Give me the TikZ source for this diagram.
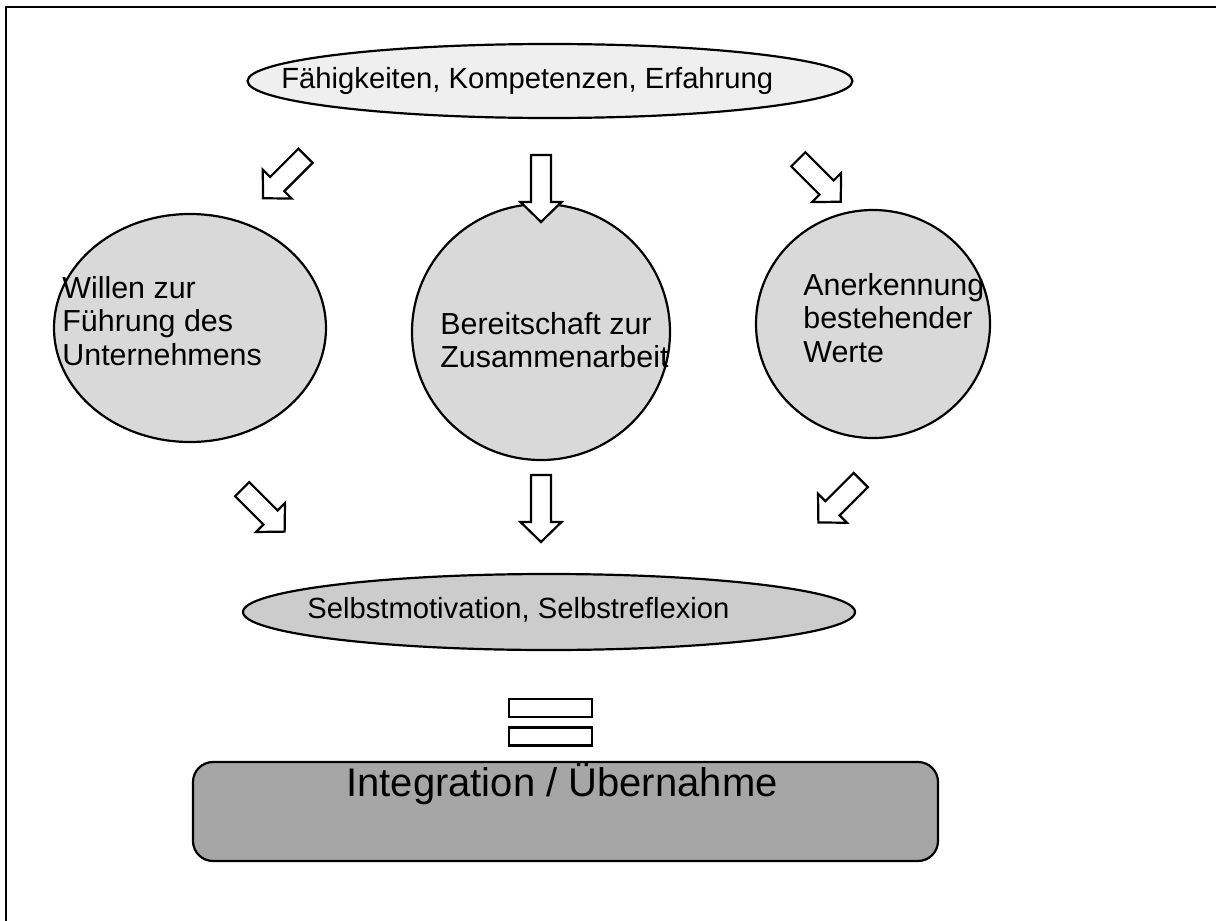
\documentclass[tikz,border=0pt]{standalone}
\usepackage{fontspec}
\setmainfont{Liberation Sans}
\usetikzlibrary{shapes.geometric}

\definecolor{topgray}{HTML}{EFEFEF}
\definecolor{circgray}{HTML}{D9D9D9}
\definecolor{selfgray}{HTML}{CCCCCC}
\definecolor{boxgray}{HTML}{A6A6A6}

\begin{document}
\begin{tikzpicture}[x=0.5pt,y=-0.5pt,
  outline/.style={draw=black,line width=1.1pt},
  blob/.style={outline,ellipse,inner sep=0pt},
  txt/.style={font=\fontsize{14.6}{16.5}\selectfont,align=left,anchor=west,inner sep=0pt},
  circtxt/.style={txt,font=\fontsize{15.2}{16.6}\selectfont},
  eqbar/.style={outline,fill=white,rectangle,inner sep=0pt,minimum width=41.5pt,minimum height=9pt},
  pics/blockarr/.style={code={
    \draw[outline,fill=white,line join=miter] (-10,0) -- (-10,#1-20) -- (-20.5,#1-20)
      -- (0,#1) -- (20.5,#1-20) -- (10,#1-20) -- (10,0) -- cycle;}}]
\useasboundingbox (0,0) rectangle (1216,921);
\draw[line width=1.3pt] (6,921) -- (6,7) -- (1216,7);

% top
\node[blob,fill=topgray,minimum width=302.5pt,minimum height=37pt] (skills) at (550,81) {};
\node[txt] (skillstxt) at (281,81) {Fähigkeiten, Kompetenzen, Erfahrung};

% circles
\node[blob,fill=circgray,minimum width=136pt,minimum height=114pt] (will) at (190,328) {};
\node[circtxt] (willtxt) at (62,321) {Willen zur\\Führung des\\Unternehmens};
\node[blob,fill=circgray,minimum width=129pt,minimum height=128pt] (coop) at (541,332) {};
\node[circtxt] (cooptxt) at (440,340) {Bereitschaft zur\\Zusammenarbeit};
\node[blob,fill=circgray,minimum width=117pt,minimum height=114pt] (values) at (873,324) {};
\node[circtxt] (valuestxt) at (803,318) {Anerkennung\\bestehender\\Werte};

% arrows
\pic[rotate=-45] (arrA) at (305.5,155.8) {blockarr=60};
\pic (arrB) at (541,155) {blockarr=67};
\pic[rotate=45] (arrC) at (798.3,159.3) {blockarr=60};
\pic[rotate=45] (arrD) at (242.2,489.2) {blockarr=60};
\pic (arrE) at (541,475) {blockarr=67};
\pic[rotate=-45] (arrF) at (860.8,480) {blockarr=60};

% self
\node[blob,fill=selfgray,minimum width=306pt,minimum height=38pt] (self) at (549,612) {};
\node[txt] (selftxt) at (307,610) {Selbstmotivation, Selbstreflexion};

\node[eqbar] (eqa) at (550.5,708) {};
\node[eqbar] (eqb) at (550.5,736.5) {};

\node[outline,fill=boxgray,rectangle,rounded corners=10pt,minimum width=372.5pt,minimum height=49.5pt] (integ) at (565.5,811.5) {};
\node[font=\fontsize{20}{24}\selectfont,inner sep=0pt] (integtxt) at (562,784) {Integration / Übernahme};
\end{tikzpicture}
\end{document}
